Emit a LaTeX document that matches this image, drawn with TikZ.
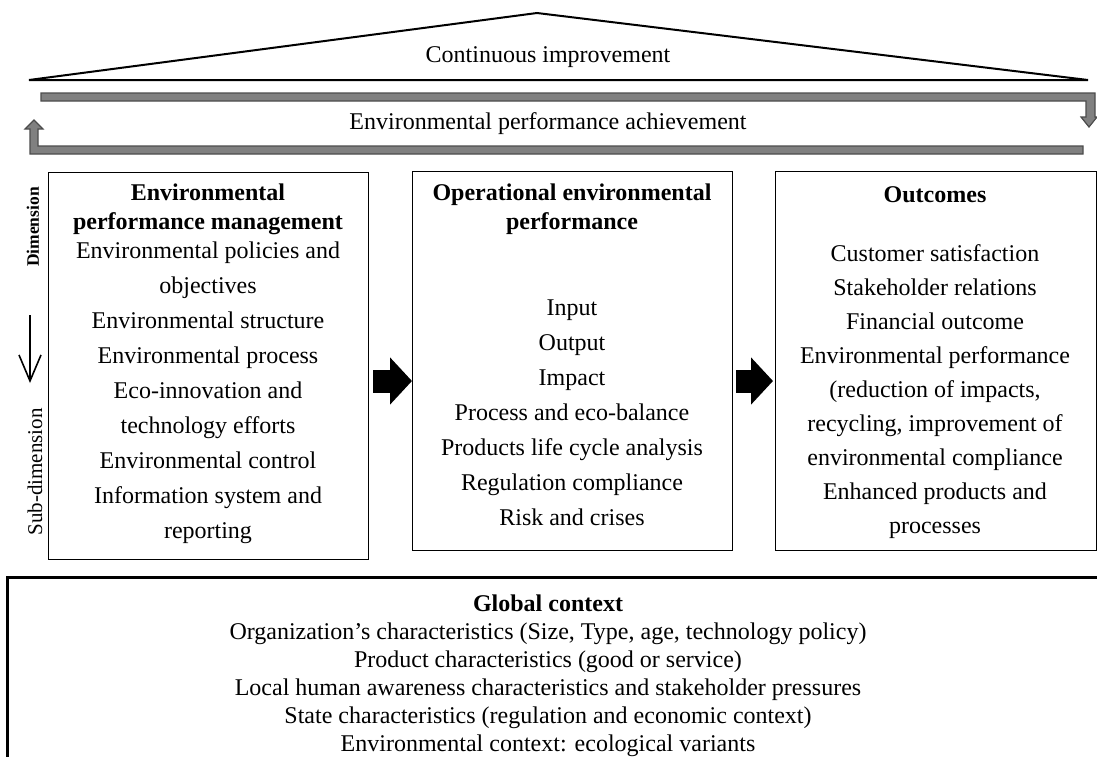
\documentclass[tikz,border=0pt]{standalone}
\usepackage{fontspec}
\setmainfont{Liberation Serif}
\usetikzlibrary{arrows.meta}

\definecolor{bandfill}{gray}{0.5}
\definecolor{bandline}{gray}{0.3}

\begin{document}
\begin{tikzpicture}[x=1pt,y=-1pt,
    txt/.style={align=center,inner sep=0pt,font=\fontsize{24}{35}\selectfont},
    ttl/.style={align=center,inner sep=0pt,font=\fontsize{24}{29}\selectfont\bfseries},
    dimbox/.style={draw,line width=1.4pt,minimum width=320pt,inner sep=0pt,anchor=north west},
    band/.style={fill=bandfill,draw=bandline,line width=1.2pt},
    blockarrow/.style={line width=23pt,-{Triangle[length=22pt,width=46pt]}}]
    \useasboundingbox (0,0) rectangle (1097,756);

    % roof
    \draw[line width=2pt,line join=miter] (29,80) -- (537,13) -- (1088,80) -- cycle;
    \node[txt,anchor=base] (ci) at (548,62) {Continuous improvement};

    % feedback band
    \filldraw[band] (41,93) -- (1095,93) -- (1095,117) -- (1097,117) -- (1089,127)
        -- (1081,117) -- (1086,117) -- (1086,101) -- (41,101) -- cycle;
    \filldraw[band] (1083,146) -- (38,146) -- (38,129) -- (43,129) -- (34,120)
        -- (25,129) -- (30,129) -- (30,154) -- (1083,154) -- cycle;
    \node[txt,anchor=base] (epa) at (548,129) {Environmental performance achievement};

    % dimension marker
    \node[inner sep=0pt,rotate=90,font=\fontsize{17.5}{20}\selectfont\bfseries] (dim) at (33,227) {Dimension};
    \node[inner sep=0pt,rotate=90,font=\fontsize{21}{23}\selectfont] (sub) at (35,472) {Sub-dimension};
    \coordinate (dtop) at (30,315);
    \coordinate (dbot) at (30,383);
    \draw[line width=1.6pt,-{Straight Barb[length=26pt,width=22pt]}] (dtop) -- (dbot);

    % boxes
    \node[dimbox,minimum height=387pt] (emp) at (48,172) {};
    \node[dimbox,minimum height=379pt] (oep) at (412,171) {};
    \node[dimbox,minimum height=379pt,minimum width=321pt] (out) at (775,171) {};

    \node[ttl,anchor=north] (empt) at (208,184) {Environmental\\performance management};
    \node[txt,anchor=north] (empl) at (208,242) {Environmental policies and\\objectives\\
        Environmental structure\\Environmental process\\Eco-innovation and\\
        technology efforts\\Environmental control\\Information system and\\reporting};

    \node[ttl,anchor=north] (oept) at (572,184) {Operational environmental\\performance};
    \node[txt,anchor=north] (oepl) at (572,300) {Input\\Output\\Impact\\Process and eco-balance\\
        Products life cycle analysis\\Regulation compliance\\Risk and crises};

    \node[ttl,anchor=north] (outt) at (935,186) {Outcomes};
    \node[txt,anchor=north,font=\fontsize{24}{34}\selectfont] (outl) at (935,244) {Customer satisfaction\\Stakeholder relations\\
        Financial outcome\\Environmental performance\\(reduction of impacts,\\
        recycling, improvement of\\environmental compliance\\Enhanced products and\\processes};

    \draw[blockarrow,shorten <=4pt] (emp.east |- 0,381) -- (oep.west |- 0,381);
    \draw[blockarrow,shorten <=3pt,shorten >=2pt] (oep.east |- 0,381) -- (out.west |- 0,381);

    % global context
    \draw[line width=3pt] (7,760) -- (7,577) -- (1100,577);
    \node[txt,anchor=north,font=\fontsize{24}{28}\selectfont] (ctx) at (548,595) {\textbf{Global context}\\
        Organization’s characteristics (Size, Type, age, technology policy)\\
        Product characteristics (good or service)\\
        Local human awareness characteristics and stakeholder pressures\\
        State characteristics (regulation and economic context)\\
        Environmental context: ecological variants};
\end{tikzpicture}
\end{document}
